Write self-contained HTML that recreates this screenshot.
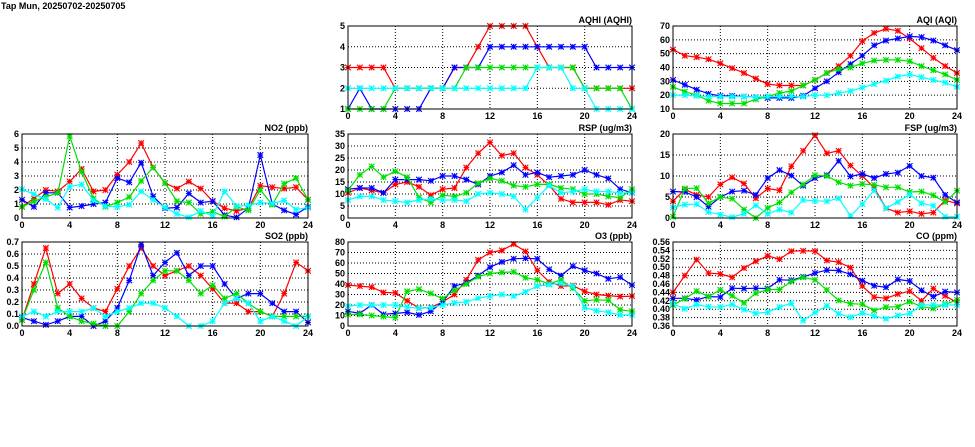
<!DOCTYPE html>
<html><head><meta charset="utf-8">
<style>
html,body{margin:0;padding:0;background:#fff;width:975px;height:447px;overflow:hidden}
svg{display:block}
text{font-family:"Liberation Sans",sans-serif;font-weight:bold;font-size:9px;fill:#000}
</style></head>
<body>
<svg id="chart" width="975" height="447">
<text x="1" y="9" font-size="10">Tap Mun, 20250702-20250705</text>
</svg>
<script>
const hours=[0,1,2,3,4,5,6,7,8,9,10,11,12,13,14,15,16,17,18,19,20,21,22,23,24];
const xTicks=[0,4,8,12,16,20,24];
const seriesNames=["red","blue","green","cyan"];
const seriesColors=["#ff0000","#0000ff","#00e000","#00ffff"];

const no2Red=[0.8,1.4,2,1.9,2.6,3.5,1.9,2,3.1,4,5.35,3.6,2.5,2.1,2.6,2.1,1.2,0.7,0.5,0.7,2.3,2.2,2.1,2.2,1.3];
const no2Blue=[1.3,0.8,1.8,1.8,0.75,0.85,1,1.1,2.85,2.55,3.95,1.55,0.7,0.75,1.75,1.1,1.2,0.2,0.05,0.7,4.5,1.0,0.55,0.25,0.8];
const no2Green=[0.8,1.2,1.5,1.8,5.85,3.3,1.4,0.8,1.1,1.5,2.65,3.6,2.5,1.2,1.1,0.3,0.45,0.1,0.8,0.55,2.0,0.95,2.45,2.85,1.3];
const no2Cyan=[2.05,1.7,1.35,0.75,2.25,2.4,1.25,0.85,0.8,0.95,1.9,1.3,0.75,0.3,0.05,0.5,0.15,1.9,0.85,0.9,1.1,1.05,1.25,0.6,0.75];
const no2Ticks=[0,1,2,3,4,5,6];

const so2Red=[0.05,0.35,0.65,0.27,0.35,0.23,0.15,0.12,0.31,0.5,0.65,0.5,0.42,0.46,0.5,0.42,0.31,0.19,0.19,0.12,0.12,0.08,0.27,0.53,0.46];
const so2Blue=[0.07,0.04,0.01,0.04,0.08,0.08,0.0,0.04,0.15,0.38,0.68,0.42,0.53,0.61,0.42,0.5,0.5,0.35,0.23,0.27,0.27,0.19,0.12,0.12,0.03];
const so2Green=[0.05,0.3,0.53,0.15,0.08,0.04,0.02,0.0,0.0,0.12,0.27,0.38,0.46,0.46,0.38,0.27,0.34,0.23,0.27,0.19,0.12,0.08,0.08,0.08,0.08];
const so2Cyan=[0.08,0.12,0.08,0.12,0.12,0.12,0.15,0.08,0.12,0.15,0.19,0.19,0.15,0.08,0.0,0.0,0.04,0.19,0.23,0.19,0.04,0.08,0.04,0.0,0.08];
const so2Ticks=["0.0","0.1","0.2","0.3","0.4","0.5","0.6","0.7"];

const aqhiRed=[3,3,3,3,2,2,2,2,2,3,3,4,5,5,5,5,4,3,3,3,2,2,2,2,2];
const aqhiBlue=[1,2,1,1,1,1,1,2,2,3,3,3,4,4,4,4,4,4,4,4,4,3,3,3,3];
const aqhiGreen=[1,1,1,1,2,2,2,2,2,2,3,3,3,3,3,3,3,3,3,3,2,2,2,2,1];
const aqhiCyan=[2,2,2,2,2,2,2,2,2,2,2,2,2,2,2,2,3,3,3,2,2,1,1,1,1];
const aqhiTicks=[1,2,3,4,5];

const aqiRed=[53,48.5,47.5,46,43,39.5,36,32,28,27,27,27,31,36,41,48.5,59,65,68,66.5,61,54,47,41,36];
const aqiBlue=[31,27.5,24,21,19.5,19.5,19,18.5,18,18,18,19.5,25,30,36.5,42.5,48.5,56,59.5,61,62.5,62,59.5,56,52.5];
const aqiGreen=[26,22.5,20,16,14,14,14,17,19,21.5,23,27,31,36,39,40,43,45,45.5,45.5,44.5,41,38,35,31];
const aqiCyan=[20,20,19.5,19,19,19,19,18.5,19,19,19,19,20,20,21.5,23,25.5,28,30.5,33.5,35,33,31,29,26];
const aqiTicks=[10,20,30,40,50,60,70];

const rspRed=[10.5,12.5,11.5,10.5,14,15,13,9.5,12,12.5,21,27,31.5,26,27,21,18,13.5,8,6.5,6.5,6.5,5.5,7.5,7];
const rspBlue=[12,12.5,12.5,10.5,16,16,16,15.5,17.5,17.5,16,14,17.5,19,22,18,19,17,17.5,18,20,18,16.5,12,10.5];
const rspGreen=[11.5,18,21.5,17,19.5,17,8.5,6.5,9.5,9,10.5,14.5,16.5,15.5,13.5,13,14,14,12.5,12,10,10,9,8.5,12];
const rspCyan=[7.5,9,9,7.5,7,6.5,7.5,8,7.5,7.5,7,10,10.5,10,9,3.5,8.5,13.5,10.5,11,12,11,11,10.5,10.5];
const rspTicks=[0,5,10,15,20,25,30,35];

const fspRed=[4,6.8,5.5,5,8,9.7,8.2,4.7,7,6.6,12.3,16,19.7,15.4,16,12.5,10,7.2,2.3,1.3,1.6,1.0,1.3,4.2,3.5];
const fspBlue=[6.3,6.2,5,2.7,5,6.3,6.5,5.5,9.5,11.4,10.1,7.7,9.5,10.2,13.6,9.9,10.5,9.5,10.5,10.8,12.4,10,9.6,5.5,3.7];
const fspGreen=[0.3,7,7.1,3.5,5,4.6,2,0,2.4,3.7,6.1,8,10.2,10,8.5,7.7,8.1,7.9,7.3,7.3,6.2,6.3,5.4,3.8,6.5];
const fspCyan=[2.5,3.2,3.3,1.4,0.8,0.2,1,3,1,2,1.3,4.3,4.1,4,4.7,0.5,3.3,6.6,2.3,3.8,5.6,3.5,2.9,0.3,0.3];
const fspTicks=[0,5,10,15,20];

const o3Red=[39,38,37,32,31.5,24,17,17.5,23,30,44,63,70,72,78,71,53,42,38,38.5,33,30,29,28,28.5];
const o3Blue=[14,12,20,11,12,13,10.5,14,23,38,41,48,56,61,64,64.5,64,54,48,57,53,50,45,46.5,39];
const o3Green=[11,11,10,9,8,33,35,31,26,34,40,47,50,51,51.5,46,44,40,44,36,24,25,24.5,15.5,14];
const o3Cyan=[19,20,20,20,20,18,17,17.5,20,22,23,26.5,28.5,30,28.5,32.5,38,39.5,40.5,38,17.5,14.5,13,10.5,10.5];
const o3Ticks=[0,10,20,30,40,50,60,70,80];

const coRed=[0.44,0.48,0.518,0.486,0.484,0.476,0.498,0.514,0.527,0.519,0.538,0.539,0.538,0.516,0.512,0.499,0.455,0.429,0.426,0.436,0.443,0.420,0.449,0.432,0.416];
const coBlue=[0.426,0.426,0.422,0.430,0.429,0.450,0.449,0.450,0.449,0.470,0.469,0.477,0.486,0.493,0.492,0.483,0.468,0.456,0.452,0.471,0.467,0.445,0.430,0.442,0.440];
const coGreen=[0.410,0.425,0.443,0.430,0.446,0.432,0.415,0.438,0.447,0.447,0.466,0.476,0.470,0.446,0.421,0.413,0.412,0.397,0.405,0.406,0.418,0.406,0.402,0.412,0.422];
const coCyan=[0.413,0.401,0.411,0.406,0.405,0.411,0.399,0.390,0.393,0.405,0.414,0.373,0.392,0.408,0.389,0.381,0.391,0.384,0.377,0.385,0.390,0.410,0.410,0.410,0.410];
const coTicks=["0.36","0.38","0.40","0.42","0.44","0.46","0.48","0.50","0.52","0.54","0.56"];

const NS="http://www.w3.org/2000/svg";
const svg=document.getElementById('chart');
function mk(tag,attrs,parent){const e=document.createElementNS(NS,tag);for(const k in attrs)e.setAttribute(k,attrs[k]);(parent||svg).appendChild(e);return e;}

function panel(key,title,box,ticks,series){
  const [L,T,R,B]=box;
  const tv=ticks.map(Number);
  const ymin=tv[0],ymax=tv[tv.length-1];
  const xs=h=>L+(R-L)*h/24;
  const ys=v=>B-(B-T)*(v-ymin)/(ymax-ymin);
  const g=mk('g',{});
  
  
  mk('rect',{x:L,y:T,width:R-L,height:B-T,fill:'#fff',stroke:'none'},g);
  ticks.forEach((t,i)=>{
    const y=ys(tv[i]);
    if(i>0&&i<ticks.length-1)mk('line',{x1:L,x2:R,y1:y,y2:y,stroke:'#000','stroke-width':1,'stroke-dasharray':'1,2'},g);
    const tx=mk('text',{x:L-3,y:y+3,'text-anchor':'end'},g);
    tx.textContent=t;
    
    
  });
  xTicks.forEach((h,i)=>{
    const x=xs(h);
    if(i>0&&i<xTicks.length-1)mk('line',{x1:x,x2:x,y1:T,y2:B,stroke:'#000','stroke-width':1,'stroke-dasharray':'1,2'},g);
    const tx=mk('text',{x:x,y:B+10,'text-anchor':'middle'},g);
    tx.textContent=h;
    
    
  });
  const tt=mk('text',{x:R,y:T-3,'text-anchor':'end'},g);
  tt.textContent=title;
  
  
  series.forEach((vals,si)=>{
    const c=seriesColors[si];
    const pts=vals.map((v,i)=>xs(hours[i]).toFixed(1)+','+ys(v).toFixed(1)).join(' ');
    const pl=mk('polyline',{points:pts,fill:'none',stroke:c,'stroke-width':1.2},g);
    
    
    let d='';
    vals.forEach((v,i)=>{const x=xs(hours[i]),y=ys(v),r=2.8;
      d+=`M${x-r},${y-r}L${x+r},${y+r}M${x-r},${y+r}L${x+r},${y-r}M${x-r},${y}L${x+r},${y}M${x},${y-r}L${x},${y+r}`;});
    const mp=mk('path',{d:d,stroke:c,'stroke-width':1.1,fill:'none'},g);
    
    
  });
  mk('rect',{x:L,y:T,width:R-L,height:B-T,fill:'none',stroke:'#000','stroke-width':1},g);
}

panel('aqhi','AQHI (AQHI)',[348,26,632,109],aqhiTicks,[aqhiRed,aqhiBlue,aqhiGreen,aqhiCyan]);
panel('aqi','AQI (AQI)',[673,26,957,109],aqiTicks,[aqiRed,aqiBlue,aqiGreen,aqiCyan]);
panel('no2','NO2 (ppb)',[22,134,308,218],no2Ticks,[no2Red,no2Blue,no2Green,no2Cyan]);
panel('rsp','RSP (ug/m3)',[348,134,632,218],rspTicks,[rspRed,rspBlue,rspGreen,rspCyan]);
panel('fsp','FSP (ug/m3)',[673,134,957,218],fspTicks,[fspRed,fspBlue,fspGreen,fspCyan]);
panel('so2','SO2 (ppb)',[22,242,308,326],so2Ticks,[so2Red,so2Blue,so2Green,so2Cyan]);
panel('o3','O3 (ppb)',[348,242,632,326],o3Ticks,[o3Red,o3Blue,o3Green,o3Cyan]);
panel('co','CO (ppm)',[673,242,957,326],coTicks,[coRed,coBlue,coGreen,coCyan]);
</script>
</body></html>
